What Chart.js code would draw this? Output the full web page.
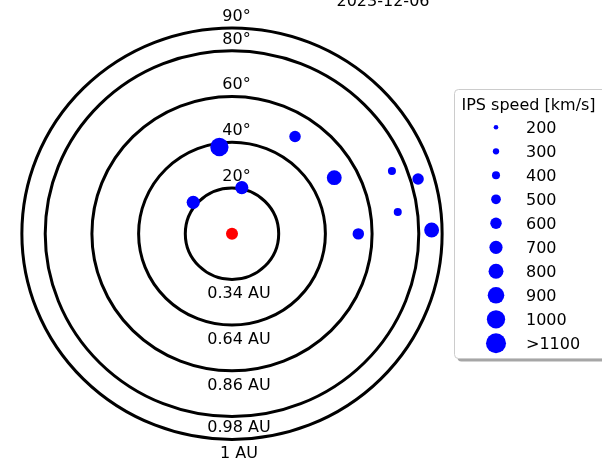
<!DOCTYPE html>
<html><head><meta charset="utf-8">
<script src="https://cdn.jsdelivr.net/npm/chart.js@4/dist/chart.umd.min.js"></script>
<style>html,body{margin:0;padding:0;background:#fff;} #wrap{width:602px;height:460px;position:relative;}</style>
</head><body><div id="wrap"><canvas id="c"></canvas></div>
<script>
// ---- data ----
const titleText = '2023-12-06';
const ringElong = [20, 40, 60, 80, 90];
const ringTopLabels = ['20°', '40°', '60°', '80°', '90°'];
const ringBottomLabels = ['0.34 AU', '0.64 AU', '0.86 AU', '0.98 AU', '1 AU'];
const ipsX = [-5.4, 4.2, -16.6, 27.0, 43.8, 68.5, 79.7, 71.0, 54.1, 85.5];
const ipsY = [37.9, 20.1, 13.7, 42.5, 24.5, 27.4, 23.9, 9.5, -0.1, 1.6];
const ipsSpeed = [1000, 700, 700, 600, 800, 400, 600, 400, 600, 800];
const sunX = [0];
const sunY = [0];
const legendTitle = 'IPS speed [km/s]';
const legendSpeeds = [200, 300, 400, 500, 600, 700, 800, 900, 1000, 1100];
const legendLabels = ['200', '300', '400', '500', '600', '700', '800', '900', '1000', '>1100'];

// ---- style ----
const FONT = '16px "DejaVu Sans"';
const bottomLabelGap = [19, 19, 19, 15, 19];
function speedRadius(v) { return 2.3 + (Math.min(v, 1100) - 200) * 0.00856; }

const ringPlugin = {
  id: 'rings',
  beforeDatasetsDraw(chart) {
    const ctx = chart.ctx, xs = chart.scales.x, ys = chart.scales.y;
    const cx = xs.getPixelForValue(0), cy = ys.getPixelForValue(0);
    ctx.save();
    ctx.font = FONT; ctx.fillStyle = '#000'; ctx.textAlign = 'center'; ctx.textBaseline = 'alphabetic';
    ringElong.forEach((e, i) => {
      const ry = cy - ys.getPixelForValue(e);
      ctx.fillText(ringTopLabels[i], cx + 4.5, cy - ry - 7);
      ctx.fillText(ringBottomLabels[i], cx + 7, cy + ry + bottomLabelGap[i]);
    });
    ringElong.forEach((e) => {
      const rx = xs.getPixelForValue(e) - cx;
      const ry = cy - ys.getPixelForValue(e);
      ctx.beginPath(); ctx.ellipse(cx, cy, rx, ry, 0, 0, 2 * Math.PI);
      ctx.lineWidth = 3; ctx.strokeStyle = '#000'; ctx.stroke();
    });
    ctx.fillText(titleText, 383, 5.7);
    ctx.restore();
  },
  afterDraw(chart) {
    const ctx = chart.ctx;
    ctx.save();
    const bx = 454.5, by = 89.5, bw = 170, bh = 269, rad = 4;
    const rr = (x, y) => { ctx.beginPath(); ctx.roundRect(x, y, bw, bh, rad); };
    rr(bx + 3, by + 3); ctx.fillStyle = 'rgba(0,0,0,0.35)'; ctx.fill();
    rr(bx, by); ctx.fillStyle = '#fff'; ctx.fill();
    ctx.lineWidth = 1; ctx.strokeStyle = '#cccccc'; ctx.stroke();
    ctx.font = FONT; ctx.fillStyle = '#000'; ctx.textAlign = 'left'; ctx.textBaseline = 'alphabetic';
    ctx.fillText(legendTitle, 461.5, 110);
    legendSpeeds.forEach((s, i) => {
      const yc = 127.3 + 24 * i;
      ctx.beginPath(); ctx.arc(496, yc, speedRadius(s), 0, 2 * Math.PI);
      ctx.fillStyle = '#0000ff'; ctx.fill();
      ctx.fillStyle = '#000';
      ctx.fillText(legendLabels[i], 526, yc + 6);
    });
    ctx.restore();
  }
};

new Chart(document.getElementById('c'), {
  type: 'scatter',
  data: {
    datasets: [
      {
        label: 'IPS',
        data: ipsX.map((x, i) => ({ x: x, y: ipsY[i] })),
        backgroundColor: '#0000ff', borderWidth: 0,
        pointRadius: c => speedRadius(ipsSpeed[c.dataIndex]),
        pointHoverRadius: c => speedRadius(ipsSpeed[c.dataIndex])
      },
      {
        label: 'Sun',
        data: sunX.map((x, i) => ({ x: x, y: sunY[i] })),
        backgroundColor: '#ff0000', borderWidth: 0,
        pointRadius: 6, pointHoverRadius: 6
      }
    ]
  },
  options: {
    responsive: true, maintainAspectRatio: false, animation: false, events: [],
    layout: { padding: { left: 10.2, right: 148.2, top: 16.45, bottom: 8.45 } },
    scales: {
      x: { type: 'linear', min: -95, max: 95, display: false },
      y: { type: 'linear', min: -95, max: 95, display: false }
    },
    plugins: { legend: { display: false }, tooltip: { enabled: false }, title: { display: false } }
  },
  plugins: [ringPlugin]
});
</script>
</body></html>
